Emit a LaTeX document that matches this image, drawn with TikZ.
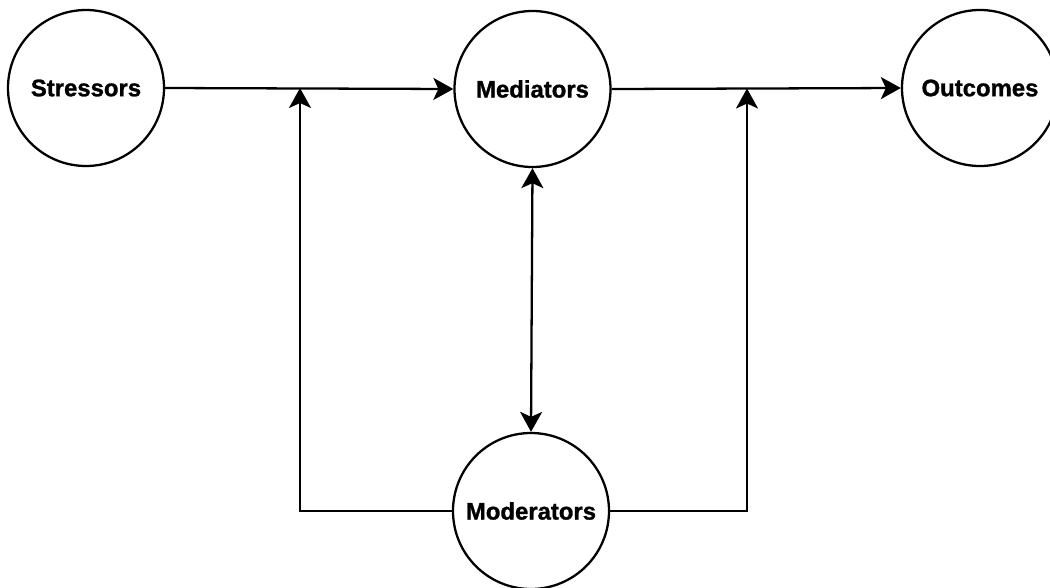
\documentclass[tikz,border=0pt]{standalone}
\usepackage{fontspec}
\setmainfont{Liberation Sans}[BoldFeatures={FakeBold=1.2}]
\usepackage{tikz}
\usetikzlibrary{arrows.meta,positioning,calc}

\begin{document}
\begin{tikzpicture}[font=\fontsize{13.6}{16}\selectfont\bfseries,
    stage/.style={draw, circle, line width=1.3pt, minimum size=3.12cm, inner sep=0pt},
    link/.style={line width=1.3pt, -{Stealth[length=0.4cm, width=0.44cm, inset=0.1cm]}}]
  \useasboundingbox (0,0) rectangle (21,-11.74);
  % ---- the four stages ----
  \node[stage] (stressors)  at (1.72,-1.76)  {Stressors};
  \node[stage] (mediators)  at (10.65,-1.78) {Mediators};
  \node[stage] (outcomes)   at (19.6,-1.76)  {Outcomes};
  \node[stage] (moderators) at (10.62,-10.22) {Moderators};
  % ---- joints on the main line ----
  \coordinate (leftjoin)  at (6.0,-1.76);
  \coordinate (rightjoin) at (14.94,-1.77);
  % ---- main line and links ----
  \draw[link] (stressors.east) -- (mediators.west);
  \draw[link] (mediators.east) -- (outcomes.west);
  \draw[link, {Stealth[length=0.4cm, width=0.44cm, inset=0.1cm]}-{Stealth[length=0.4cm, width=0.44cm, inset=0.1cm]}]
    (mediators.south) -- (moderators.north);
  \draw[link] (moderators.west) -| (leftjoin);
  \draw[link] (moderators.east) -| (rightjoin);
\end{tikzpicture}
\end{document}
